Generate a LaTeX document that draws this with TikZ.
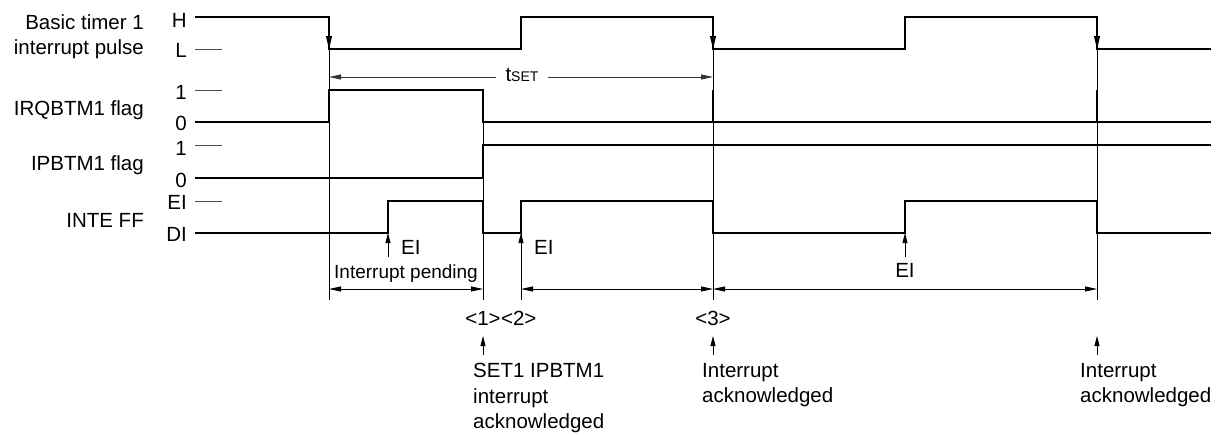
\documentclass[tikz,border=0pt]{standalone}
\usepackage{fontspec}
\setmainfont{Liberation Sans}
\usetikzlibrary{arrows.meta}
\begin{document}
\begin{tikzpicture}[x=1pt,y=-1pt,
  sig/.style={line width=2.8pt},
  thinl/.style={line width=0.8pt},
  levtick/.style={line width=0.9pt, black!70},
  dimarr/.style={line width=0.8pt, {Triangle[length=12pt,width=5pt]}-{Triangle[length=12pt,width=5pt]}},
  uparr/.style={line width=0.8pt, -{Triangle[length=10pt,width=5pt]}},
  edgetip/.style={line width=0.8pt, -{Triangle[length=13pt,width=6pt]}},
  lbl/.style={font=\fontsize{20.5}{25.5}\selectfont, inner sep=0pt},
]
\useasboundingbox (0,0) rectangle (1221,434);

% ---- left signal names
\node[lbl, align=right, anchor=north east] (nbt) at (144,14) {Basic timer 1\\interrupt pulse};
\node[lbl, anchor=base east] (nirq) at (144,115) {IRQBTM1 flag};
\node[lbl, anchor=base east] (nipb) at (144,170) {IPBTM1 flag};
\node[lbl, anchor=base east] (ninte) at (144,227) {INTE FF};

% ---- level labels
\node[lbl, anchor=base east] (lH) at (187,27) {H};
\node[lbl, anchor=base east] (lL) at (187,57) {L};
\node[lbl, anchor=base east] (lQ1) at (187,99) {1};
\node[lbl, anchor=base east] (lQ0) at (187,130) {0};
\node[lbl, anchor=base east] (lP1) at (187,155) {1};
\node[lbl, anchor=base east] (lP0) at (187,187) {0};
\node[lbl, anchor=base east] (lE1) at (187,209) {EI};
\node[lbl, anchor=base east] (lE0) at (187,241) {DI};

% ---- level ticks
\draw[levtick] (195,49) -- (222,49);
\draw[levtick] (195,90) -- (222,90);
\draw[levtick] (195,145) -- (222,145);
\draw[levtick] (195,201) -- (222,201);

% ---- thin vertical reference lines
\draw[thinl] (329,49) -- (329,300);
\draw[thinl] (483,122) -- (483,300);
\draw[thinl] (521,233) -- (521,300);
\draw[thinl] (713,49) -- (713,300);
\draw[thinl] (1097,49) -- (1097,300);

% ---- waveforms
\draw[sig] (195,17) -| (329,49) -| (521,17) -| (713,49) -| (905,17) -| (1097,49) -- (1211,49);
\draw[sig] (195,122) -| (329,90) -| (483,122) -- (1211,122);
\draw[sig] (713,90) -- (713,122);
\draw[sig] (1097,90) -- (1097,122);
\draw[sig] (195,178) -| (483,145) -- (1211,145);
\draw[sig] (195,233) -| (388,201) -| (483,233) -| (521,201) -| (713,233) -| (905,201) -| (1097,233) -- (1211,233);

% ---- arrow tips on falling edges
\coordinate (f1a) at (329,30); \coordinate (f1b) at (329,49);
\coordinate (f2a) at (713,30); \coordinate (f2b) at (713,49);
\coordinate (f3a) at (1097,30); \coordinate (f3b) at (1097,49);
\draw[edgetip] (f1a) -- (f1b);
\draw[edgetip] (f2a) -- (f2b);
\draw[edgetip] (f3a) -- (f3b);

% ---- tSET
\node[lbl, anchor=base, inner xsep=9pt] (tset) at (522,81) {t{\fontsize{14}{14}\selectfont SET}};
\coordinate (tsL) at (329,77);
\coordinate (tsR) at (713,77);
\draw[thinl, black!80, {Triangle[length=12pt,width=5pt]}-] (tsL) -- (tset.west |- tsL);
\draw[thinl, black!80, -{Triangle[length=12pt,width=5pt]}] (tset.east |- tsR) -- (tsR);

% ---- EI markers
\coordinate (ei1s) at (388,257); \coordinate (ei1e) at (388,233);
\coordinate (ei2s) at (521,257); \coordinate (ei2e) at (521,233);
\coordinate (ei3s) at (905,257); \coordinate (ei3e) at (905,233);
\draw[uparr] (ei1s) -- (ei1e);
\draw[uparr] (ei2s) -- (ei2e);
\draw[uparr] (ei3s) -- (ei3e);
\node[lbl, anchor=base west] (tei1) at (401,254) {EI};
\node[lbl, anchor=base west] (tei2) at (534,254) {EI};
\node[lbl, anchor=base] (tei3) at (905,277) {EI};

% ---- intervals
\node[lbl, anchor=base, font=\fontsize{19}{23}\selectfont] (tpend) at (406,278) {Interrupt pending};
\coordinate (i1a) at (329,289); \coordinate (i1b) at (483,289);
\coordinate (i2a) at (521,289); \coordinate (i2b) at (713,289);
\coordinate (i3a) at (713,289); \coordinate (i3b) at (1097,289);
\draw[dimarr] (i1a) -- (i1b);
\draw[dimarr] (i2a) -- (i2b);
\draw[dimarr] (i3a) -- (i3b);

% ---- event markers
\node[lbl, anchor=base] (m1) at (483,325) {<1>};
\node[lbl, anchor=base west] (m2) at (m1.base east) {<2>};
\node[lbl, anchor=base] (m3) at (713,325) {<3>};
\coordinate (u1s) at (483,355); \coordinate (u1e) at (483,336);
\coordinate (u2s) at (713,355); \coordinate (u2e) at (713,336);
\coordinate (u3s) at (1097,355); \coordinate (u3e) at (1097,336);
\draw[uparr] (u1s) -- (u1e);
\draw[uparr] (u2s) -- (u2e);
\draw[uparr] (u3s) -- (u3e);

\node[lbl, align=left, anchor=north west] (d1) at (473,363) {SET1 IPBTM1\\interrupt\\acknowledged};
\node[lbl, align=left, anchor=north west] (d2) at (702,363) {Interrupt\\acknowledged};
\node[lbl, align=left, anchor=north west] (d3) at (1080,363) {Interrupt\\acknowledged};
\end{tikzpicture}
\end{document}
